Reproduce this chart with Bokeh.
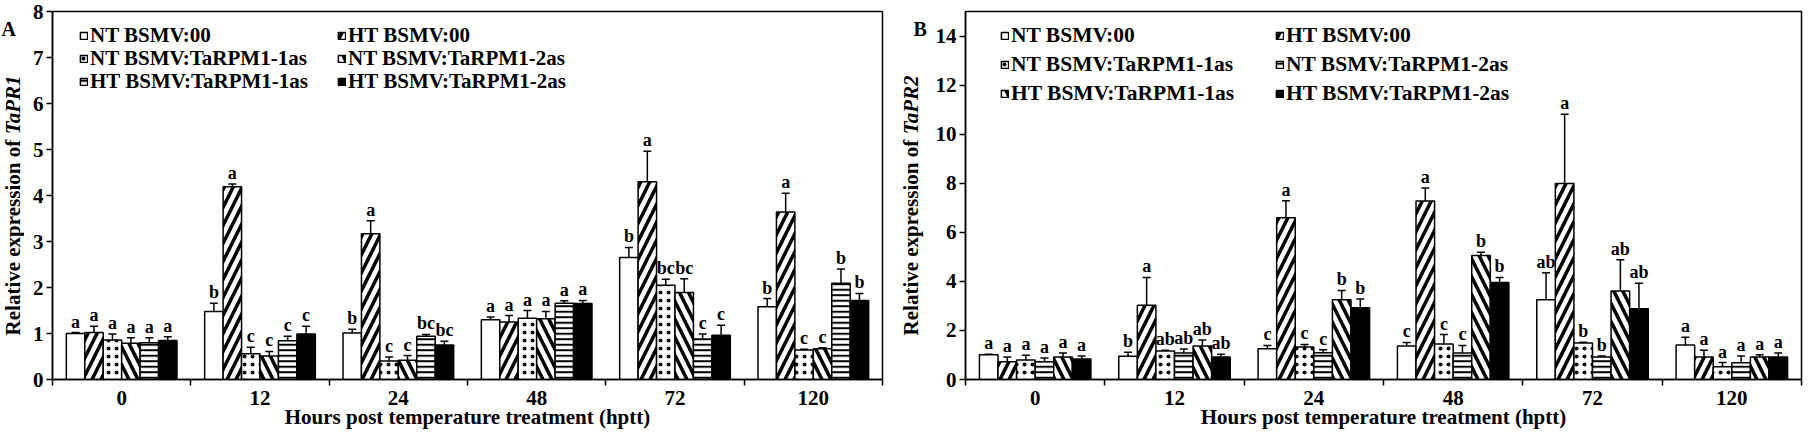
import math
from bokeh.plotting import figure
from bokeh.models import (ColumnDataSource, Whisker, TeeHead, Legend, LegendItem,
                          FixedTicker, Range1d)
from bokeh.transform import dodge
from bokeh.layouts import row
from bokeh.core.properties import value
from bokeh.embed import file_html
from bokeh.resources import INLINE

# ---------------- data ----------------
hours = ["0", "12", "24", "48", "72", "120"]
series = ["NT BSMV:00", "HT BSMV:00", "NT BSMV:TaRPM1-1as",
          "NT BSMV:TaRPM1-2as", "HT BSMV:TaRPM1-1as", "HT BSMV:TaRPM1-2as"]
x_title = "Hours post temperature treatment (hptt)"
y_title = "Relative expression of "

# Panel A: TaPR1
a_nt00 = [1.00, 1.48, 1.01, 1.30, 2.65, 1.58]
a_ht00 = [1.02, 4.19, 3.17, 1.25, 4.30, 3.64]
a_nt1 = [0.86, 0.56, 0.40, 1.33, 2.05, 0.64]
a_nt2 = [0.79, 0.51, 0.42, 1.32, 1.89, 0.67]
a_ht1 = [0.80, 0.84, 0.94, 1.66, 0.88, 2.09]
a_ht2 = [0.85, 0.99, 0.75, 1.65, 0.96, 1.72]

a_nt00_err = [0.02, 0.18, 0.08, 0.06, 0.22, 0.18]
a_ht00_err = [0.14, 0.06, 0.28, 0.14, 0.66, 0.41]
a_nt1_err = [0.13, 0.14, 0.09, 0.17, 0.13, 0.02]
a_nt2_err = [0.12, 0.10, 0.10, 0.16, 0.30, 0.02]
a_ht1_err = [0.11, 0.10, 0.04, 0.05, 0.11, 0.31]
a_ht2_err = [0.08, 0.17, 0.08, 0.07, 0.22, 0.15]

a_nt00_let = ["a", "b", "b", "a", "b", "b"]
a_ht00_let = ["a", "a", "a", "a", "a", "a"]
a_nt1_let = ["a", "c", "c", "a", "bc", "c"]
a_nt2_let = ["a", "c", "c", "a", "bc", "c"]
a_ht1_let = ["a", "c", "bc", "a", "c", "b"]
a_ht2_let = ["a", "c", "bc", "a", "c", "b"]

# Panel B: TaPR2
b_nt00 = [1.01, 0.95, 1.25, 1.37, 3.25, 1.41]
b_ht00 = [0.72, 3.03, 6.59, 7.28, 7.99, 0.92]
b_nt1 = [0.79, 1.16, 1.32, 1.45, 1.49, 0.52]
b_nt2 = [0.72, 1.08, 1.09, 1.08, 0.92, 0.68]
b_ht1 = [0.92, 1.37, 3.25, 5.05, 3.61, 0.92]
b_ht2 = [0.84, 0.92, 2.92, 3.95, 2.88, 0.92]

b_nt00_err = [0.02, 0.16, 0.14, 0.14, 1.10, 0.31]
b_ht00_err = [0.20, 1.13, 0.70, 0.53, 2.82, 0.27]
b_nt1_err = [0.20, 0.03, 0.11, 0.38, 0.03, 0.17]
b_nt2_err = [0.16, 0.16, 0.12, 0.31, 0.04, 0.28]
b_ht1_err = [0.16, 0.24, 0.38, 0.14, 1.27, 0.09]
b_ht2_err = [0.12, 0.11, 0.36, 0.21, 1.04, 0.16]

b_nt00_let = ["a", "b", "c", "c", "ab", "a"]
b_ht00_let = ["a", "a", "a", "a", "a", "a"]
b_nt1_let = ["a", "ab", "c", "c", "b", "a"]
b_nt2_let = ["a", "ab", "c", "c", "b", "a"]
b_ht1_let = ["a", "ab", "b", "b", "ab", "a"]
b_ht2_let = ["a", "ab", "b", "b", "ab", "a"]

# ---------------- styles ----------------
FONT = "Liberation Serif"
PLAIN = dict(fill="white", hatch=None, scale=1, weight=1)
RDIAG = dict(fill="white", hatch="/", scale=18, weight=3.5)
LDIAG = dict(fill="white", hatch="\\", scale=18, weight=3.5)
DOTS = dict(fill="white", hatch=".", scale=8, weight=2)
HLINE = dict(fill="white", hatch="-", scale=5.5, weight=2)
SOLID = dict(fill="black", hatch=None, scale=1, weight=1)

H_TOTAL = 431          # whole page content height
MAIN_TOP = 11
MAIN_BOT = 50
FRAME_H = H_TOTAL - MAIN_TOP - MAIN_BOT
TEXT_H = 23.0


def blank_fig(fw, fh):
    f = figure(frame_width=fw, frame_height=fh, title=None, x_range=Range1d(0, fw),
               y_range=Range1d(0, fh), output_backend="svg", toolbar_location=None,
               x_axis_type=None, y_axis_type=None, min_border_left=0, min_border_right=0,
               min_border_top=0, min_border_bottom=0)
    f.outline_line_color = None
    f.xgrid.visible = False
    f.ygrid.visible = False
    f.background_fill_color = "white"
    f.border_fill_color = "white"
    return f


def build(means, errs, lets, styles, ymax, ystep, gene, panel, width, mbl, mbr,
          leg_x, leg_rows, leg_fs, lab_w, ylab_x, panel_x):
    p = figure(width=width, height=H_TOTAL, title=None,
               x_range=Range1d(0, len(hours)), y_range=Range1d(0, ymax),
               output_backend="svg", toolbar_location=None,
               min_border_left=mbl, min_border_right=mbr, min_border_top=MAIN_TOP,
               min_border_bottom=MAIN_BOT)
    p.xgrid.visible = False
    p.ygrid.visible = False
    p.outline_line_color = "black"
    p.outline_line_width = 1.5
    p.background_fill_color = "white"
    p.border_fill_color = "white"

    nser = len(series)
    bw = 0.8 / nser
    pos = [i + 0.5 for i in range(len(hours))]
    rends = []
    for k in range(nser):
        up = [m + e for m, e in zip(means[k], errs[k])]
        lo = [m - e for m, e in zip(means[k], errs[k])]
        src = ColumnDataSource(dict(pos=pos, top=means[k], up=up, lo=lo, lab=lets[k]))
        off = (k - (nser - 1) / 2) * bw
        st = styles[k]
        kw = dict(fill_color=st["fill"], line_color="black", line_width=1.5)
        if st["hatch"]:
            kw.update(hatch_pattern=st["hatch"], hatch_color="black",
                      hatch_scale=st["scale"], hatch_weight=st["weight"])
        r = p.vbar(x=dodge("pos", off), top="top", bottom=0, width=bw, source=src, **kw)
        rends.append(r)
        w = Whisker(source=src, base=dodge("pos", off), upper="up", lower="lo",
                    line_color="black", line_width=1.5,
                    upper_head=TeeHead(size=8, line_width=1.5, line_color="black"),
                    lower_head=TeeHead(size=8, line_width=1.5, line_color="black"))
        p.add_layout(w)
        p.text(x=dodge("pos", off), y="up", text="lab", source=src,
               text_font=value(FONT), text_font_style="bold", text_font_size="18px",
               text_align="center", text_baseline="bottom", y_offset=-1, text_color="black")

    # legend: one item per Legend, laid out as two columns of three rows
    order = [[0, 2, 4], [1, 3, 5]]
    for c, col in enumerate(order):
        for rr, k in enumerate(col):
            vy = FRAME_H - leg_rows[rr] - TEXT_H / 2
            leg = Legend(items=[LegendItem(label=series[k], renderers=[rends[k]])],
                         location=(leg_x[c], vy), padding=0, margin=0,
                         border_line_color=None, background_fill_alpha=0,
                         glyph_width=9, glyph_height=9, label_standoff=2, label_height=9,
                         spacing=0, label_text_font=FONT, label_text_font_style="bold",
                         label_text_font_size=leg_fs, label_text_color="black")
            p.add_layout(leg)

    # y axis
    ax = p.yaxis[0]
    ax.ticker = FixedTicker(ticks=list(range(0, ymax + 1, ystep)))
    ax.minor_tick_line_color = None
    ax.major_tick_out = 6
    ax.major_tick_in = 0
    ax.major_label_standoff = 3
    ax.axis_line_width = 1.5
    ax.major_tick_line_width = 1.5
    ax.major_label_text_font = FONT
    ax.major_label_text_font_style = "bold"
    ax.major_label_text_font_size = "21px"
    ax.major_label_text_color = "black"

    # x axis: labels at group centres, tick marks at group boundaries
    xa = p.xaxis[0]
    xa.ticker = FixedTicker(ticks=pos, minor_ticks=list(range(len(hours) + 1)))
    xa.major_label_overrides = {pp: h for pp, h in zip(pos, hours)}
    xa.major_tick_out = 0
    xa.major_tick_in = 0
    xa.major_tick_line_color = None
    xa.minor_tick_out = 6
    xa.minor_tick_in = 0
    xa.minor_tick_line_color = "black"
    xa.minor_tick_line_width = 1.5
    xa.axis_line_width = 1.5
    xa.major_label_standoff = 5
    xa.major_label_text_font = FONT
    xa.major_label_text_font_style = "bold"
    xa.major_label_text_font_size = "21px"
    xa.major_label_text_color = "black"
    xa.axis_label = x_title
    xa.axis_label_standoff = -3
    xa.axis_label_text_font = FONT
    xa.axis_label_text_font_style = "bold"
    xa.axis_label_text_font_size = "21px"
    xa.axis_label_text_color = "black"

    # strip on the left: rotated y title (gene name in italics) and panel letter
    lab = blank_fig(lab_w, H_TOTAL)
    fs = 21
    w1 = 9.58 * fs
    wt = (9.58 + 2.89) * fs
    frame_mid = H_TOTAL - MAIN_TOP - FRAME_H / 2
    y0 = frame_mid - wt / 2 + 3
    lab.text(x=[ylab_x], y=[y0], text=[y_title], angle=math.pi / 2,
             text_font=value(FONT), text_font_style="bold", text_font_size=f"{fs}px",
             text_align="left", text_baseline="middle", text_color="black")
    lab.text(x=[ylab_x], y=[y0 + w1], text=[gene], angle=math.pi / 2,
             text_font=value(FONT), text_font_style="bold italic", text_font_size=f"{fs}px",
             text_align="left", text_baseline="middle", text_color="black")
    lab.text(x=[panel_x], y=[H_TOTAL - 17], text=[panel], text_font=value(FONT),
             text_font_style="bold", text_font_size="20px", text_align="left",
             text_baseline="alphabetic", text_color="black")
    return lab, p


labA, pA = build([a_nt00, a_ht00, a_nt1, a_nt2, a_ht1, a_ht2],
                 [a_nt00_err, a_ht00_err, a_nt1_err, a_nt2_err, a_ht1_err, a_ht2_err],
                 [a_nt00_let, a_ht00_let, a_nt1_let, a_nt2_let, a_ht1_let, a_ht2_let],
                 [PLAIN, RDIAG, DOTS, LDIAG, HLINE, SOLID],
                 8, 1, "TaPR1", "A", 868, 28, 10,
                 leg_x=[27, 285], leg_rows=[27, 50, 73], leg_fs="21px",
                 lab_w=24, ylab_x=12, panel_x=1)

labB, pB = build([b_nt00, b_ht00, b_nt1, b_nt2, b_ht1, b_ht2],
                 [b_nt00_err, b_ht00_err, b_nt1_err, b_nt2_err, b_ht1_err, b_ht2_err],
                 [b_nt00_let, b_ht00_let, b_nt1_let, b_nt2_let, b_ht1_let, b_ht2_let],
                 [PLAIN, RDIAG, DOTS, HLINE, LDIAG, SOLID],
                 15, 2, "TaPR2", "B", 871, 33, 2,
                 leg_x=[35, 310], leg_rows=[27, 56, 85], leg_fs="21.5px",
                 lab_w=40, ylab_x=18, panel_x=21)

layout = row(labA, pA, labB, pB, spacing=0)
open("out.html", "w").write(file_html(layout, INLINE))
